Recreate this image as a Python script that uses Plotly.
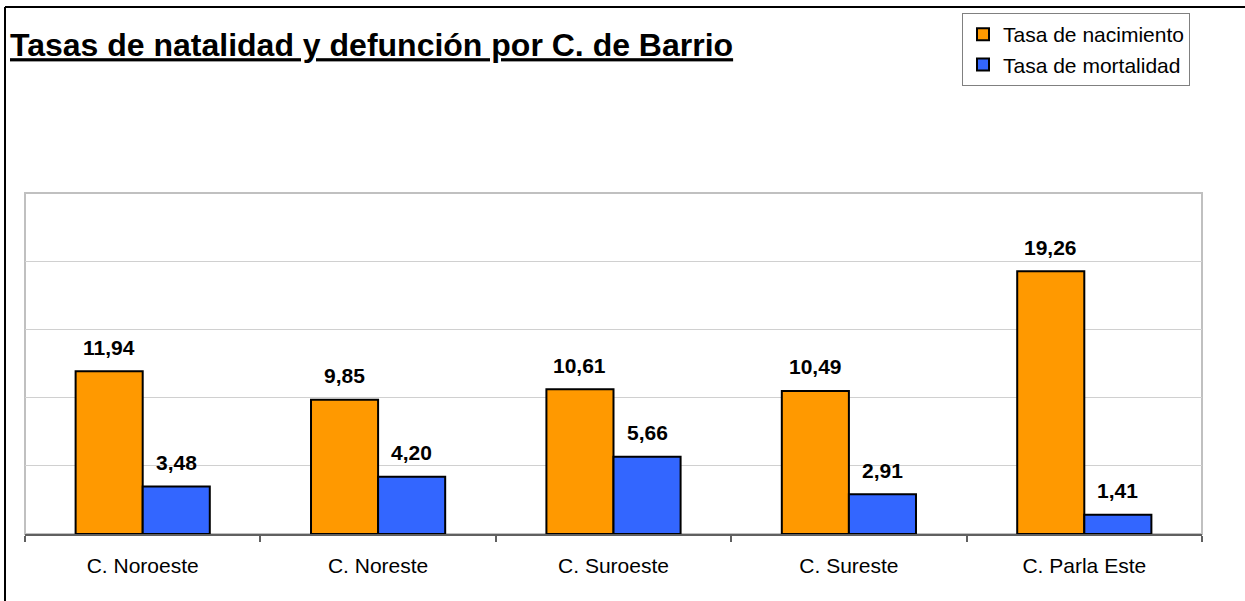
import plotly.graph_objects as go

categories = ["C. Noroeste", "C. Noreste", "C. Suroeste", "C. Sureste", "C. Parla Este"]
natalidad = [11.94, 9.85, 10.61, 10.49, 19.26]
mortalidad = [3.48, 4.20, 5.66, 2.91, 1.41]
series_names = ["Tasa de nacimiento", "Tasa de mortalidad"]
colors = ["#FF9900", "#3366FF"]

FONT = "Liberation Sans, Arial, sans-serif"

W, H = 1245, 601
# plot area on screen: x 25..1202, y 193..534
PX0, PX1, PY0, PY1 = 25, 1202, 193, 534
L, T = PX0, PY0
R, B = W - PX1, H - PY1
plot_w = PX1 - PX0
plot_h = PY1 - PY0

def px_to_paper_x(sx):
    return (sx - PX0) / plot_w

def px_to_paper_y(sy):
    return (PY1 - sy) / plot_h

fig = go.Figure()
for name, vals, col in zip(series_names, [natalidad, mortalidad], colors):
    fig.add_trace(go.Bar(
        x=categories, y=vals, name=name,
        marker=dict(color=col, line=dict(color="black", width=2)),
        hoverinfo="x+y",
    ))

def fmt(v):
    return f"{v:.2f}".replace(".", ",")

cat_w = plot_w / len(categories)
bargap = 0.43
bar_w = cat_w * (1 - bargap) / 2

annotations = []
for si, vals in enumerate([natalidad, mortalidad]):
    shift = (-0.5 + si) * bar_w
    for c, v in zip(categories, vals):
        annotations.append(dict(
            x=c, y=v, xref="x", yref="y", text=f"<b>{fmt(v)}</b>",
            showarrow=False, xshift=shift, yshift=24, yanchor="middle",
            font=dict(family=FONT, size=21, color="black"),
        ))

shapes = [
    # plot area frame
    dict(type="rect", xref="paper", yref="paper", x0=0, x1=1, y0=0, y1=1,
         line=dict(color="#c0c0c0", width=2), layer="below"),
    # outer chart frame: top and left edges only (others are off-canvas)
    dict(type="line", xref="paper", yref="paper",
         x0=px_to_paper_x(5), x1=px_to_paper_x(W + 5),
         y0=px_to_paper_y(7), y1=px_to_paper_y(7),
         line=dict(color="black", width=2), layer="below"),
    dict(type="line", xref="paper", yref="paper",
         x0=px_to_paper_x(5), x1=px_to_paper_x(5),
         y0=px_to_paper_y(7), y1=px_to_paper_y(H + 5),
         line=dict(color="black", width=2), layer="below"),
]

fig.update_layout(
    width=W, height=H,
    margin=dict(l=L, r=R, t=T, b=B, pad=0, autoexpand=False),
    paper_bgcolor="white", plot_bgcolor="white",
    barmode="group", bargap=bargap, bargroupgap=0,
    title=dict(
        text="<b>Tasas de natalidad y defunción por C. de Barrio</b>",
        x=10 / W, xanchor="left", xref="container",
        y=1 - 45 / H, yanchor="middle", yref="container",
        font=dict(family=FONT, size=32, color="black", lineposition="under"),
    ),
    font=dict(family=FONT, size=21, color="black"),
    showlegend=True,
    legend=dict(
        x=px_to_paper_x(962), y=px_to_paper_y(13),
        xanchor="left", yanchor="top",
        bgcolor="white", bordercolor="#808080", borderwidth=1,
        font=dict(family=FONT, size=21, color="black"),
        itemwidth=30,
    ),
    xaxis=dict(
        type="category", tickson="boundaries", ticks="outside", ticklen=6,
        tickcolor="#606060", tickwidth=2, showline=True, linecolor="#606060",
        linewidth=2, showgrid=False, tickfont=dict(family=FONT, size=21),
        ticklabelstandoff=12, fixedrange=True,
    ),
    yaxis=dict(
        range=[0, 25], dtick=5, showticklabels=False, ticks="",
        showgrid=True, gridcolor="#d0d0d0", gridwidth=1, zeroline=False,
        showline=False, fixedrange=True,
    ),
    annotations=annotations,
    shapes=shapes,
)

fig.write_html(
    "out.html",
    config={"displayModeBar": False},
    post_script="document.body.style.margin='0';",
)
